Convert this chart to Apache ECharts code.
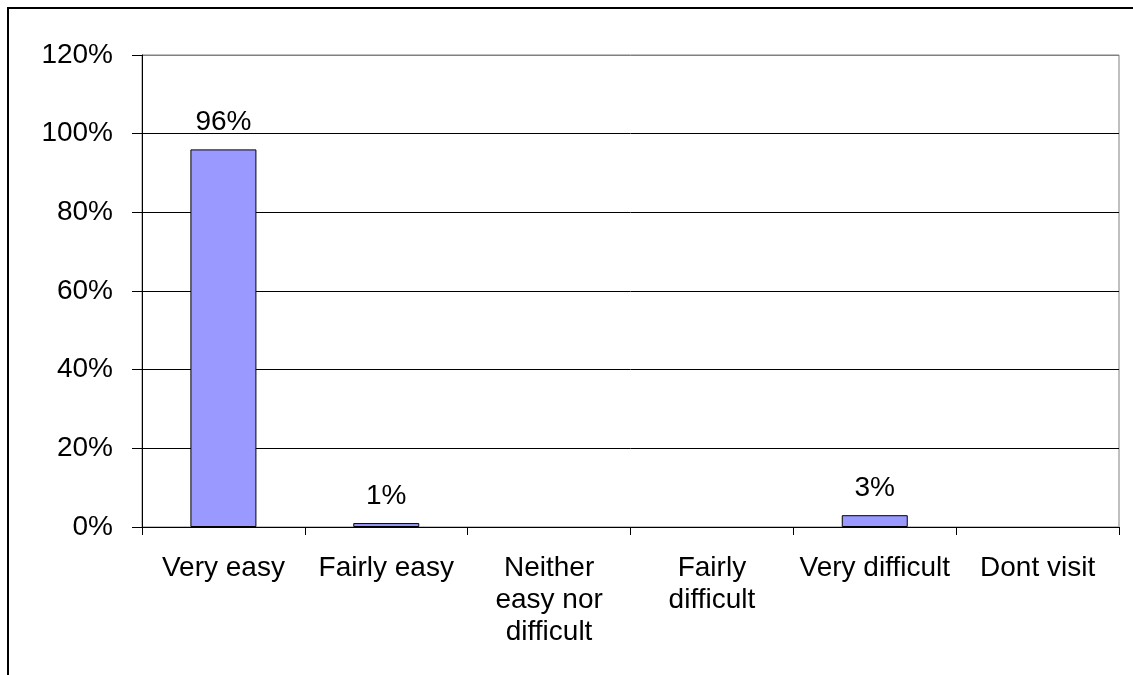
<!DOCTYPE html>
<html>
<head>
<meta charset="utf-8">
<script src="https://cdn.jsdelivr.net/npm/echarts@6/dist/echarts.min.js"></script>
<style>
  html, body { margin: 0; padding: 0; background: #fff; }
  #chart { width: 1133px; height: 675px; }
</style>
</head>
<body>
<div id="chart"></div>
<script>
// Survey answers: how easy is it to get there
const categories = ['Very easy', 'Fairly easy', 'Neither\neasy nor\ndifficult', 'Fairly\ndifficult', 'Very difficult', 'Dont visit'];
const shares = [0.96, 0.01, 0, 0, 0.03, 0];
const yTicks = [0, 0.2, 0.4, 0.6, 0.8, 1.0, 1.2];

const FONT = 'Liberation Sans, Arial, sans-serif';
const FS = 28;
const pct = v => Math.round(v * 100) + '%';

// zero answers get no outline so nothing shows on the baseline
const barData = shares.map(v => ({
  value: v,
  itemStyle: v > 0 ? {} : { borderWidth: 0, opacity: 0 }
}));

const chart = echarts.init(document.getElementById('chart'), null, { renderer: 'canvas' });

chart.setOption({
  backgroundColor: '#ffffff',
  animation: false,
  graphic: [{
    type: 'rect',
    shape: { x: 8, y: 8, width: 1200, height: 800 },
    style: { fill: 'none', stroke: '#000', lineWidth: 2 },
    silent: true
  }],
  grid: {
    left: 142, top: 55, right: 14, bottom: 148,
    show: true, borderColor: '#808080', borderWidth: 1, backgroundColor: 'transparent'
  },
  xAxis: {
    type: 'category',
    data: categories,
    axisLine: { lineStyle: { color: '#000', width: 1 } },
    axisTick: { show: true, alignWithLabel: false, length: 8, lineStyle: { color: '#000' } },
    axisLabel: {
      interval: 0, margin: 25, color: '#000', fontSize: FS, fontFamily: FONT, lineHeight: 32
    }
  },
  yAxis: {
    type: 'value',
    min: yTicks[0],
    max: yTicks[yTicks.length - 1],
    interval: 0.2,
    axisLine: { show: true, lineStyle: { color: '#000', width: 1 } },
    axisTick: { show: true, length: 10, lineStyle: { color: '#000' } },
    axisLabel: { formatter: pct, color: '#000', fontSize: FS, fontFamily: FONT, margin: 29 },
    splitLine: {
      show: true,
      lineStyle: { color: ['#000', '#000', '#000', '#000', '#000', '#000', '#808080'], width: 1 }
    }
  },
  series: [{
    type: 'bar',
    data: barData,
    barWidth: 66,
    itemStyle: { color: '#9999ff', borderColor: '#000', borderWidth: 1 },
    label: {
      show: true,
      position: 'top',
      distance: 13,
      color: '#000',
      fontSize: FS,
      fontFamily: FONT,
      formatter: p => (p.value > 0 ? pct(p.value) : '')
    }
  }]
});
</script>
</body>
</html>
